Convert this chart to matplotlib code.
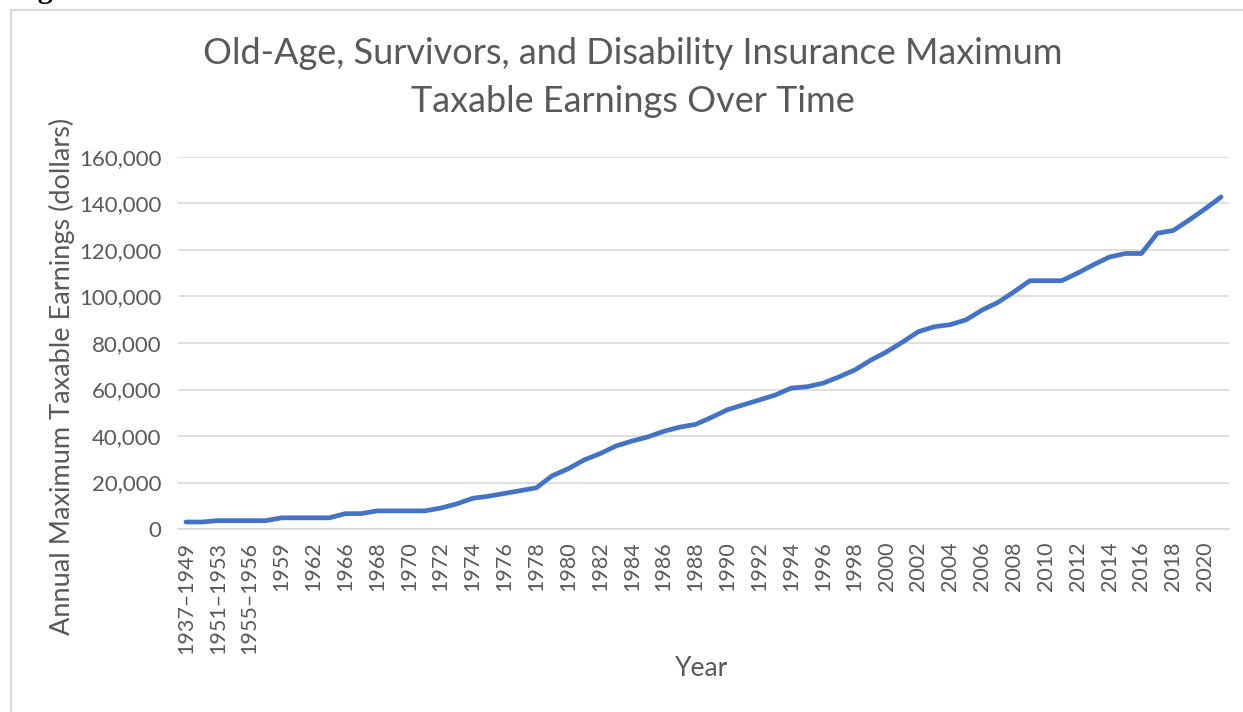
import matplotlib
matplotlib.use("Agg")
import matplotlib.pyplot as plt
from matplotlib.lines import Line2D
from matplotlib.ticker import FuncFormatter

categories = [
    "1937–1949", "1950", "1951–1953", "1954", "1955–1956", "1957–1958",
    "1959", "1960–1961", "1962", "1963–1965",
    "1966", "1967", "1968", "1969", "1970", "1971", "1972", "1973", "1974",
    "1975", "1976", "1977", "1978", "1979", "1980", "1981", "1982", "1983",
    "1984", "1985", "1986", "1987", "1988", "1989", "1990", "1991", "1992",
    "1993", "1994", "1995", "1996", "1997", "1998", "1999", "2000", "2001",
    "2002", "2003", "2004", "2005", "2006", "2007", "2008", "2009", "2010",
    "2011", "2012", "2013", "2014", "2015", "2016", "2017", "2018", "2019",
    "2020", "2021",
]
max_taxable = [
    3000, 3000, 3600, 3600, 3600, 3600,
    4800, 4800, 4800, 4800,
    6600, 6600, 7800, 7800, 7800, 7800, 9000, 10800, 13200,
    14100, 15300, 16500, 17700, 22900, 25900, 29700, 32400, 35700,
    37800, 39600, 42000, 43800, 45000, 48000, 51300, 53400, 55500,
    57600, 60600, 61200, 62700, 65400, 68400, 72600, 76200, 80400,
    84900, 87000, 87900, 90000, 94200, 97500, 102000, 106800, 106800,
    106800, 110100, 113700, 117000, 118500, 118500, 127200, 128400, 132900,
    137700, 142800,
]
y_ticks = [0, 20000, 40000, 60000, 80000, 100000, 120000, 140000, 160000]

title = "Old-Age, Survivors, and Disability Insurance Maximum\nTaxable Earnings Over Time"
x_label = "Year"
y_label = "Annual Maximum Taxable Earnings (dollars)"

W, H = 1243, 712
FONT = "Lato"
GRAY = "#595959"

fig = plt.figure(figsize=(W / 100, H / 100), dpi=100)
fig.patch.set_facecolor("white")

def fx(px):
    return px / W

def fy(py):
    return 1 - py / H

# chart border (only top and left edges visible)
fig.add_artist(Line2D([fx(11), fx(W + 5)], [fy(10), fy(10)], color="#D9D9D9", lw=1.5))
fig.add_artist(Line2D([fx(11), fx(11)], [fy(10), fy(H + 5)], color="#D9D9D9", lw=1.5))

# clipped caption above the chart (only the descender shows, as in the source)
fig.text(fx(11), fy(-1.5), "Figure 1.", fontsize=21.6, fontweight="bold",
         family="Liberation Serif", ha="left", va="baseline", color="black")

left, right, top, bottom = 178, 1229, 157, 529
ax = fig.add_axes([fx(left), fy(bottom), fx(right - left), (bottom - top) / H])

x = list(range(len(categories)))
ax.plot(x, max_taxable, color="#4472C4", lw=3.4, solid_capstyle="round",
        solid_joinstyle="round", zorder=3)

ax.set_xlim(-0.5, len(categories) - 0.5)
ax.set_ylim(y_ticks[0], y_ticks[-1])
ax.set_yticks(y_ticks)
ax.yaxis.set_major_formatter(FuncFormatter(lambda v, p: f"{int(v):,}"))
ax.grid(axis="y", color="#D9D9D9", lw=1.2, zorder=0)
ax.set_axisbelow(True)

shown = x[::2]
ax.set_xticks(shown)
ax.set_xticklabels([categories[i] for i in shown], rotation=90, va="top", ha="center")

for s in ax.spines.values():
    s.set_visible(False)
ax.spines["bottom"].set_visible(True)
ax.spines["bottom"].set_color("#D9D9D9")
ax.spines["bottom"].set_linewidth(1.2)

ax.tick_params(axis="y", length=0, pad=12, labelsize=16, labelcolor=GRAY)
ax.tick_params(axis="x", length=0, pad=9, labelsize=15.5, labelcolor=GRAY)
for lab in ax.get_xticklabels() + ax.get_yticklabels():
    lab.set_family(FONT)

fig.text(fx(633), fy(77.5), title, ha="center", va="center", fontsize=26,
         family=FONT, color=GRAY, linespacing=1.55)
fig.text(fx(702), fy(669), x_label, ha="center", va="center", fontsize=19,
         family=FONT, color=GRAY)
fig.text(fx(62), fy(376), y_label, ha="center", va="center", fontsize=19.5,
         family=FONT, color=GRAY, rotation=90)

fig.savefig("out.png", dpi=100, facecolor="white")
